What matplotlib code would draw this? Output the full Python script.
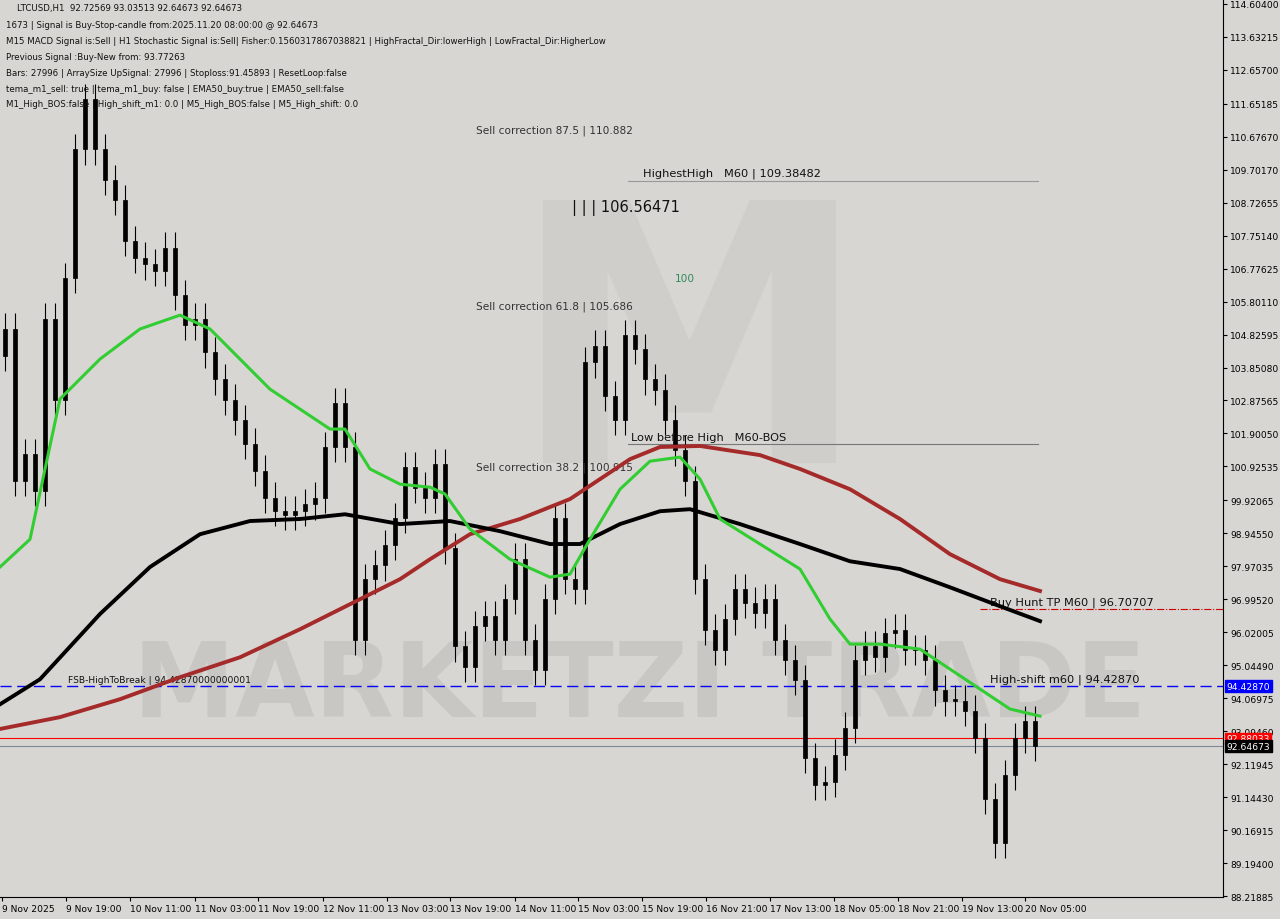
import matplotlib
matplotlib.use("Agg")
import matplotlib.pyplot as plt
import numpy as np

closes = [105.0,100.5,101.3,100.2,105.3,102.9,106.5,110.3,111.8,110.3,109.4,108.8,107.6,107.1,106.9,106.7,107.4,106.0,105.1,105.3,
          104.3,103.5,102.9,102.3,101.6,100.8,100.0,99.6,99.5,99.6,99.8,100.0,101.5,102.8,101.5,95.8,97.6,98.0,98.6,99.4,
          100.9,100.3,100.0,101.0,98.5,95.6,95.0,96.2,96.5,95.8,97.0,98.2,95.8,94.9,97.0,99.4,97.6,97.3,104.0,104.5,
          103.0,102.3,104.8,104.4,103.5,103.2,102.3,101.4,100.5,97.6,96.1,95.5,96.4,97.3,96.9,96.6,97.0,95.8,95.2,94.6,
          92.3,91.5,91.6,92.4,93.2,95.2,95.6,95.3,96.0,96.1,95.5,95.5,95.2,94.3,94.0,94.0,93.7,92.9,91.1,89.8,
          91.8,92.9,93.4,92.65]
open0 = 104.2

green_x = [-0.5,2.5,5.5,9.5,13.5,17.5,20.5,23.5,26.5,29.5,32.5,34,36.5,39.5,42.5,44,46.5,50.5,54.5,56.5,58.5,61.5,64.5,67.5,69.5,71.5,75.5,79.5,82.5,84.5,87.5,91.5,94.5,97.5,100.5,103.5]
green_y = [97.95,98.77,102.92,104.10,104.99,105.40,104.99,104.10,103.21,102.62,102.03,102.03,100.85,100.40,100.31,100.11,99.07,98.18,97.65,97.74,98.77,100.25,101.08,101.20,100.55,99.37,98.63,97.89,96.41,95.67,95.67,95.52,94.93,94.34,93.75,93.54]
brown_x = [-0.5,5.5,11.5,17.5,23.5,29.5,34.5,39.5,42.5,46.5,51.5,56.5,59.5,62.5,65.5,69.5,75.5,79.5,84.5,89.5,94.5,99.5,103.5]
brown_y = [93.16,93.51,94.04,94.69,95.28,96.11,96.85,97.59,98.18,98.92,99.37,99.96,100.55,101.14,101.50,101.53,101.26,100.85,100.25,99.37,98.33,97.59,97.24]
black_x = [-0.5,3.5,9.5,14.5,19.5,24.5,29.5,34,39.5,44.5,49.5,54.5,57.5,61.5,65.5,68.5,73.5,79.5,84.5,89.5,94.5,99.5,103.5]
black_y = [93.89,94.63,96.56,97.95,98.92,99.31,99.37,99.51,99.22,99.31,99.01,98.63,98.63,99.22,99.60,99.66,99.22,98.63,98.12,97.89,97.35,96.79,96.35]

tick_vals = [114.60400,113.63215,112.65700,111.65185,110.67670,109.70170,108.72655,107.75140,106.77625,105.80110,
             104.82595,103.85080,102.87565,101.90050,100.92535,99.92065,98.94550,97.97035,96.99520,96.02005,
             95.04490,94.06975,93.09460,92.11945,91.14430,90.16915,89.19400,88.21885]
date_labels = ["9 Nov 2025","9 Nov 19:00","10 Nov 11:00","11 Nov 03:00","11 Nov 19:00","12 Nov 11:00","13 Nov 03:00",
               "13 Nov 19:00","14 Nov 11:00","15 Nov 03:00","15 Nov 19:00","16 Nov 21:00","17 Nov 13:00","18 Nov 05:00",
               "18 Nov 21:00","19 Nov 13:00","20 Nov 05:00"]

BG = "#d8d6d2"
fig = plt.figure(figsize=(12.8, 9.2), dpi=100, facecolor=BG)
ax = fig.add_axes([0, 22/920, 1223/1280, 898/920], facecolor=BG)

def px(x):
    return (x - 5) / 10.0

ax.set_xlim(px(0), px(1223))
ax.set_ylim(88.19, 114.75)

ax.text(px(640), 94.4, "MARKETZI TRADE", fontsize=74, fontweight="bold", color="#c9c7c4",
        ha="center", va="center", zorder=0)
ax.text(px(690), 104.0, "M", fontsize=260, fontweight="bold", color="#d0cecb", ha="center", va="center", zorder=0)

opens = [open0] + closes[:-1]
for i, (o, c) in enumerate(zip(opens, closes)):
    hi, lo = max(o, c) + 0.45, min(o, c) - 0.45
    ax.vlines(i, lo, hi, color="black", lw=0.8, zorder=3)
    ax.bar(i, abs(c - o) if abs(c - o) > 0.05 else 0.05, bottom=min(o, c), width=0.45,
           color="black", edgecolor="black", lw=0.5, zorder=3)

ax.plot(brown_x, brown_y, color="#a52a2a", lw=2.8, zorder=4)
ax.plot(black_x, black_y, color="black", lw=2.8, zorder=4)
ax.plot(green_x, green_y, color="#32cd32", lw=2.2, zorder=5)

ax.axhline(94.4287, color="#0000ff", lw=1, ls=(0, (8, 4)), zorder=2)
ax.axhline(92.88, color="#ff0000", lw=0.8, zorder=2)
ax.axhline(92.64673, color="#7a8a9a", lw=0.8, zorder=2)
ax.plot([px(980), px(1223)], [96.707, 96.707], color="#cc0000", lw=0.8, ls="-.", zorder=2)
ax.plot([px(628), px(1038)], [109.38, 109.38], color="#999999", lw=0.8, zorder=2)
ax.plot([px(628), px(1038)], [101.6, 101.6], color="#777777", lw=0.8, zorder=2)

fs = 7.6
ax.text(px(68), 94.50, "FSB-HighToBreak | 94.42870000000001", fontsize=6.6, color="#111", va="bottom")
ax.text(px(990), 94.5, "High-shift m60 | 94.42870", fontsize=fs + 0.6, color="#111", va="bottom")
ax.text(px(990), 96.78, "Buy Hunt TP M60 | 96.70707", fontsize=fs + 0.6, color="#111", va="bottom")
ax.text(px(643), 109.45, "HighestHigh   M60 | 109.38482", fontsize=fs + 0.6, color="#111", va="bottom")
ax.text(px(631), 101.65, "Low before High   M60-BOS", fontsize=fs + 0.6, color="#111", va="bottom")
ax.text(px(476), 110.88, "Sell correction 87.5 | 110.882", fontsize=fs, color="#333", va="center")
ax.text(px(476), 105.69, "Sell correction 61.8 | 105.686", fontsize=fs, color="#333", va="center")
ax.text(px(476), 100.92, "Sell correction 38.2 | 100.915", fontsize=fs, color="#333", va="center")
ax.text(px(572), 108.6, "| | | 106.56471", fontsize=10.5, color="#111", va="center")
ax.text(px(675), 106.5, "100", fontsize=fs, color="#2e8b57", va="center")

ax.yaxis.tick_right()
ax.set_yticks(tick_vals)
ax.set_yticklabels([f"{v:.5f}" for v in tick_vals], fontsize=6.6)
tick_px = [2, 66, 130, 195, 258, 323, 387, 450, 515, 578, 642, 706, 770, 834, 898, 962, 1025]
ax.set_xticks([px(p) for p in tick_px])
ax.set_xticklabels(date_labels, fontsize=6.6, ha="left")
ax.tick_params(axis="both", length=3, pad=2)
for s in ["top", "left"]:
    ax.spines[s].set_visible(False)

def price_box(v, txt, fc, tc="white"):
    ax.text(1.003, v, txt, transform=ax.get_yaxis_transform(), fontsize=6.6, color=tc, va="center",
            ha="left", bbox=dict(boxstyle="square,pad=0.15", fc=fc, ec=fc), zorder=10)
price_box(94.4287, "94.42870", "#0000ff")
price_box(92.88, "92.88033", "#ff0000")
price_box(92.64673, "92.64673", "black")

header = ["    LTCUSD,H1  92.72569 93.03513 92.64673 92.64673",
          "1673 | Signal is Buy-Stop-candle from:2025.11.20 08:00:00 @ 92.64673",
          "M15 MACD Signal is:Sell | H1 Stochastic Signal is:Sell| Fisher:0.1560317867038821 | HighFractal_Dir:lowerHigh | LowFractal_Dir:HigherLow",
          "Previous Signal :Buy-New from: 93.77263",
          "Bars: 27996 | ArraySize UpSignal: 27996 | Stoploss:91.45893 | ResetLoop:false",
          "tema_m1_sell: true | tema_m1_buy: false | EMA50_buy:true | EMA50_sell:false",
          "M1_High_BOS:false | High_shift_m1: 0.0 | M5_High_BOS:false | M5_High_shift: 0.0"]
for k, line in enumerate(header):
    fig.text(6/1280, 1 - (9 + 16 * k) / 920, line, fontsize=6.2, color="#111", va="center")

fig.savefig("out.png", dpi=100, facecolor=BG)
